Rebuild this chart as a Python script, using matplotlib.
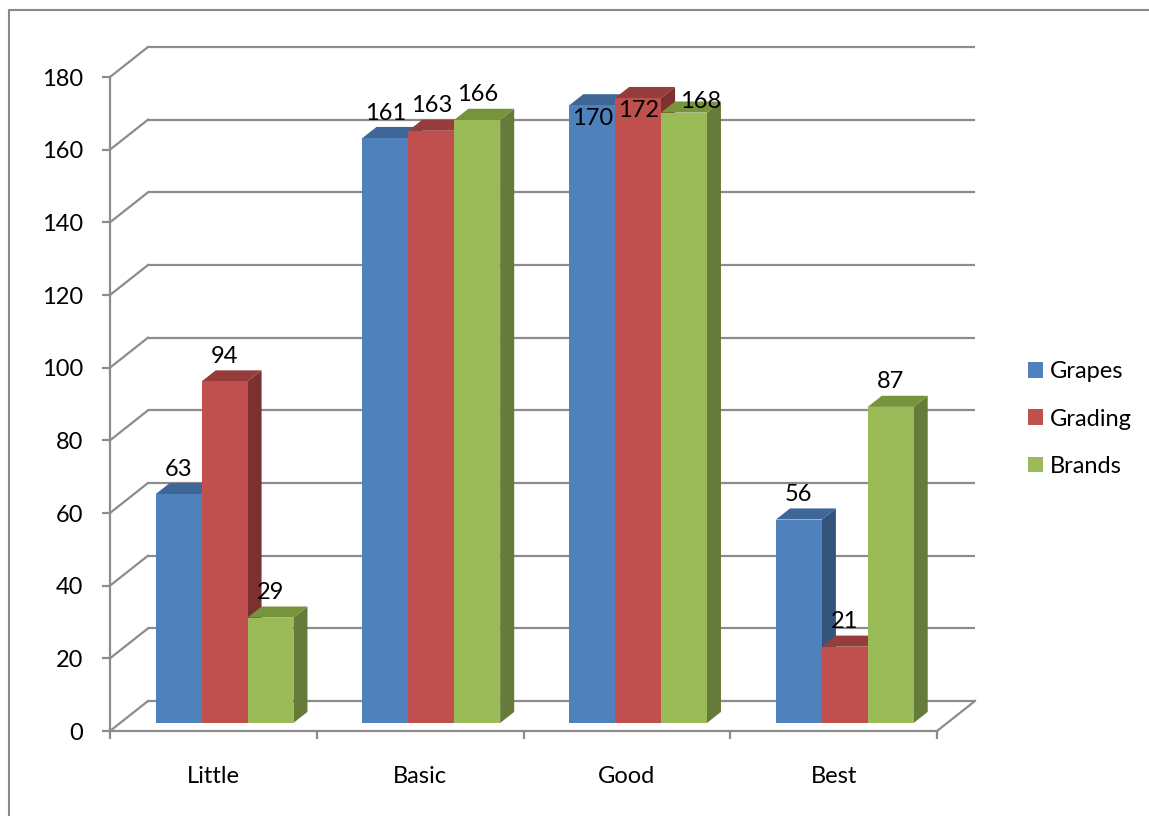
import matplotlib
matplotlib.use("Agg")
import matplotlib.pyplot as plt
from matplotlib.patches import Polygon, Patch
from matplotlib.lines import Line2D

# ---------------- data ----------------
categories = ["Little", "Basic", "Good", "Best"]
series_names = ["Grapes", "Grading", "Brands"]
grapes = [63, 161, 170, 56]
grading = [94, 163, 172, 21]
brands = [29, 166, 168, 87]
y_ticks = [0, 20, 40, 60, 80, 100, 120, 140, 160, 180]

series_values = [grapes, grading, brands]

# ---------------- style ----------------
plt.rcParams["font.family"] = ["Lato", "DejaVu Sans"]
FS = 17
W, H, DPI = 1149, 816, 100
PX = 72.0 / DPI  # points per pixel

front_cols = ["#4F81BD", "#C0504D", "#9BBB59"]
top_cols = ["#3E6797", "#963D3B", "#77933C"]
side_cols = ["#34547C", "#7C302F", "#657B39"]
GRID = "#8C8C8C"

fig = plt.figure(figsize=(W / DPI, H / DPI), dpi=DPI)
fig.patch.set_facecolor("white")

ax_left, ax_right, ax_top, ax_bot = 110, 937, 77, 731
ax = fig.add_axes([ax_left / W, (H - ax_bot) / H, (ax_right - ax_left) / W, (ax_bot - ax_top) / H])
ax.set_xlim(0, len(categories))
ax.set_ylim(y_ticks[0], y_ticks[-1])
ax.patch.set_alpha(0)

# oblique depth projection (full depth = 38 px right, 30 px up)
px_per_x = (ax_right - ax_left) / len(categories)
px_per_v = (ax_bot - ax_top) / (y_ticks[-1] - y_ticks[0])
DXd = 38 / px_per_x
DYd = 30 / px_per_v


def P(x, v, z):
    return (x + z * DXd, v + z * DYd)


ncat = len(categories)
# back wall gridlines + left wall diagonals
for v in y_ticks:
    a, b = P(0, v, 1), P(ncat, v, 1)
    ax.plot([a[0], b[0]], [a[1], b[1]], color=GRID, lw=1.6, clip_on=False, zorder=1, solid_capstyle="butt")
    c = P(0, v, 0)
    ax.plot([c[0], a[0]], [c[1], a[1]], color=GRID, lw=1.6, clip_on=False, zorder=1)
# floor right edge
a, b = P(ncat, 0, 0), P(ncat, 0, 1)
ax.plot([a[0], b[0]], [a[1], b[1]], color=GRID, lw=1.6, clip_on=False, zorder=1)

# bars
z0, z1 = 0.267, 0.637
bw = 0.222
start = 0.172
for k, vals in enumerate(series_values):
    lefts = [i + start + k * bw for i in range(ncat)]
    for xl, v in zip(lefts, vals):
        xr = xl + bw
        side = [P(xr, 0, z0), P(xr, v, z0), P(xr, v, z1), P(xr, 0, z1)]
        top = [P(xl, v, z0), P(xr, v, z0), P(xr, v, z1), P(xl, v, z1)]
        ax.add_patch(Polygon(side, closed=True, fc=side_cols[k], ec="none", zorder=3 + 3 * k, clip_on=False))
        ax.add_patch(Polygon(top, closed=True, fc=top_cols[k], ec="none", zorder=4 + 3 * k, clip_on=False))
    ax.bar([x + z0 * DXd for x in lefts], vals, width=bw, bottom=z0 * DYd, align="edge",
           color=front_cols[k], linewidth=0, zorder=5 + 3 * k, clip_on=False)

# data labels (pixel offsets relative to front-top centre)
label_shift = {(2, 0): (0, -11), (2, 1): (0, -10), (2, 2): (17, 13)}
for k, vals in enumerate(series_values):
    for i, v in enumerate(vals):
        dx, dy = label_shift.get((i, k), (0, 27))
        cx, cy = P(i + start + k * bw + bw / 2, v, z0)
        ax.annotate(str(v), xy=(cx, cy), xytext=(dx * PX, (dy - 8.5) * PX), textcoords="offset points",
                    ha="center", va="baseline", fontsize=FS, color="black", zorder=20,
                    annotation_clip=False)

# axes styling
for s in ["top", "right"]:
    ax.spines[s].set_visible(False)
for s in ["left", "bottom"]:
    ax.spines[s].set_color(GRID)
    ax.spines[s].set_linewidth(1.6)
    ax.spines[s].set_zorder(2)
ax.set_yticks(y_ticks)
ax.set_yticklabels([str(t) for t in y_ticks])
ax.tick_params(axis="y", direction="out", length=8 * PX, width=1.6, color=GRID, pad=13.5,
               labelsize=FS, labelcolor="black")
ax.set_xticks(list(range(ncat + 1)))
ax.set_xticklabels([""] * (ncat + 1))
ax.tick_params(axis="x", direction="out", length=8 * PX, width=1.6, color=GRID)
for i, cat in enumerate(categories):
    ax.annotate(cat, xy=(i + 0.5, 0), xytext=(0, -52 * PX), textcoords="offset points",
                ha="center", va="baseline", fontsize=FS, color="black", annotation_clip=False)

# legend
handles = [Patch(facecolor=c, edgecolor="none") for c in front_cols]
fig.legend(handles, series_names, loc="center left", bbox_to_anchor=(1028 / W, (H - 419) / H),
           frameon=False, borderpad=0, borderaxespad=0, fontsize=FS,
           handlelength=15 / 23.6, handleheight=15 / 23.6, handletextpad=7 / 23.6, labelspacing=1.12)

# chart frame (left + top edges visible)
fig.add_artist(Line2D([9 / W, 9 / W, 1], [0, (H - 10) / H, (H - 10) / H], transform=fig.transFigure,
                      color="#898989", lw=1.5))

fig.savefig("out.png", dpi=DPI)
